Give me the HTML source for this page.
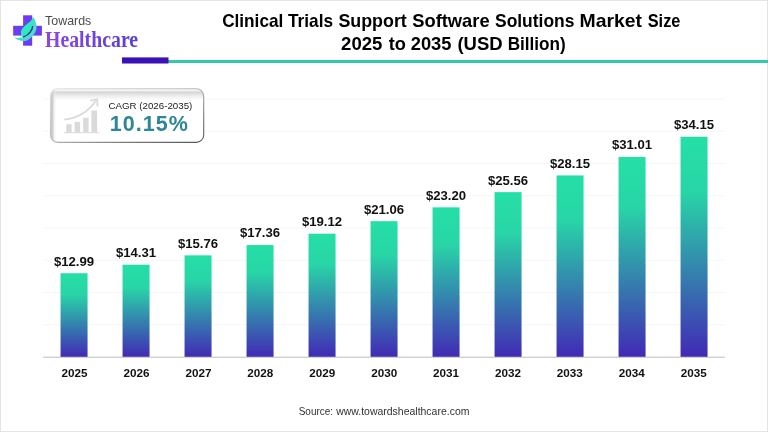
<!DOCTYPE html>
<html lang="en"><head><meta charset="utf-8"><title>Clinical Trials Support Software Solutions Market Size</title>
<style>
html,body{margin:0;padding:0;background:#fff;}
body{width:768px;height:432px;overflow:hidden;font-family:"Liberation Sans",Arial,sans-serif;}
svg{display:block}
</style></head><body>
<svg width="768" height="432" viewBox="0 0 768 432">
<defs>
<linearGradient id="bar" x1="0" y1="0" x2="0" y2="1">
<stop offset="0" stop-color="#25dfa6"/><stop offset="0.25" stop-color="#28d5a7"/><stop offset="1" stop-color="#412ab5"/>
</linearGradient>
<linearGradient id="hc" gradientUnits="userSpaceOnUse" x1="45" y1="0" x2="138" y2="0">
<stop offset="0" stop-color="#8a48e6"/><stop offset="1" stop-color="#5a3fd6"/>
</linearGradient>
<linearGradient id="topband" x1="0" y1="0" x2="0" y2="1">
<stop offset="0" stop-color="#d0d0d0"/><stop offset="0.5" stop-color="#ececec"/><stop offset="1" stop-color="#ffffff"/>
</linearGradient>
<linearGradient id="leftband" x1="0" y1="0" x2="1" y2="0">
<stop offset="0" stop-color="#c0c0c0"/><stop offset="0.4" stop-color="#cfcfcf"/><stop offset="1" stop-color="#ffffff" stop-opacity="0"/>
</linearGradient>
<clipPath id="boxclip"><rect x="50.5" y="88.7" width="153.2" height="53.7" rx="7.5" ry="7.5"/></clipPath>
<linearGradient id="boxstroke" x1="0" y1="0" x2="1" y2="1">
<stop offset="0" stop-color="#e2e2e2"/><stop offset="0.45" stop-color="#bdbdbd"/><stop offset="0.75" stop-color="#7a7a7a"/><stop offset="1" stop-color="#555555"/>
</linearGradient>
</defs>
<rect x="0" y="0" width="768" height="432" fill="#ffffff"/>
<rect x="0.5" y="0.5" width="767" height="431" fill="none" stroke="#e4e4e4" stroke-width="1"/>

<g stroke="#f6f6f6" stroke-width="1">
<line x1="43" y1="324.75" x2="725" y2="324.75"/>
<line x1="43" y1="292.50" x2="725" y2="292.50"/>
<line x1="43" y1="260.25" x2="725" y2="260.25"/>
<line x1="43" y1="228.00" x2="725" y2="228.00"/>
<line x1="43" y1="195.75" x2="725" y2="195.75"/>
<line x1="43" y1="163.50" x2="725" y2="163.50"/>
<line x1="43" y1="131.25" x2="725" y2="131.25"/>
<line x1="43" y1="99.00" x2="725" y2="99.00"/>
</g>
<rect x="168" y="60" width="600" height="3" fill="#36c9a6"/>
<rect x="122" y="57.4" width="46.5" height="6.1" fill="#3a12b8"/>
<g>
<rect x="23.1" y="15.3" width="9.1" height="30.4" fill="#6c3df0"/>
<rect x="13.2" y="25.8" width="28.7" height="9.8" fill="#6c3df0"/>
<path d="M33.1,16.9 C35.8,20.5 37.2,25 36.4,29 C35.5,33.5 31.5,38.5 25.7,41 C23.5,40 21.8,37.5 21.2,35 C20,29.5 24.5,26 29.9,22 C31.5,20.5 32.5,18.5 33.1,16.9 Z" fill="#4fd9d2"/>
<path d="M33.1,16.9 C32.5,18.5 31.5,20.5 29.9,22 C24.5,26 20,29.5 21.2,35 C21.5,36.2 22.3,37 23.4,36.9 C28,34.8 32,31.5 32.7,26.2 C33.3,23 33.3,19.5 33.1,16.9 Z" fill="#2ee8c2"/>
<path d="M32.7,26 C32.2,31 28.2,35 23.2,37.1" fill="none" stroke="#1a3575" stroke-width="1.3"/>
<path d="M13.7,37.2 C17,39.8 21.5,41.5 26.5,40.8 L24,39.5 C22.8,39 22,38.2 21.4,37.3 C19,38.2 16,38 13.7,37.2 Z" fill="#3fdcc8"/>
</g>
<g>
<rect x="50.5" y="88.7" width="153.2" height="53.7" rx="7.5" ry="7.5" fill="#ffffff"/>
<g clip-path="url(#boxclip)">
<rect x="50" y="91.2" width="154" height="9" fill="url(#topband)"/>
<rect x="50" y="88" width="154" height="3.2" fill="#f4f4f4"/>
<rect x="50" y="88" width="6.5" height="55" fill="url(#leftband)"/>
</g>
<rect x="50.5" y="88.7" width="153.2" height="53.7" rx="7.5" ry="7.5" fill="none" stroke="url(#boxstroke)" stroke-width="1.1"/>
<g fill="#dadada">
<rect x="66.2" y="124.2" width="5.4" height="8.4"/>
<rect x="74.6" y="121.9" width="5.5" height="10.7"/>
<rect x="83.2" y="117.7" width="5.4" height="14.9"/>
<rect x="91.4" y="110.5" width="5.7" height="22.1"/>
<rect x="64" y="132.2" width="35" height="1"/>
</g>
<path d="M64.3,119.6 C76,118.5 88,112 96,100.5" fill="none" stroke="#dadada" stroke-width="1.8"/>
<path d="M90.3,100.6 L97.2,99.4 L97.6,106.4" fill="none" stroke="#dadada" stroke-width="1.8"/>
</g>
<text x="222.16" y="26.7" font-family="Liberation Sans, Arial, sans-serif" font-weight="bold" font-size="17.8" fill="#000" textLength="61.15" lengthAdjust="spacingAndGlyphs">Clinical</text>
<text x="288.00" y="26.7" font-family="Liberation Sans, Arial, sans-serif" font-weight="bold" font-size="17.8" fill="#000" textLength="45.00" lengthAdjust="spacingAndGlyphs">Trials</text>
<text x="338.42" y="26.7" font-family="Liberation Sans, Arial, sans-serif" font-weight="bold" font-size="17.8" fill="#000" textLength="68.37" lengthAdjust="spacingAndGlyphs">Support</text>
<text x="412.21" y="26.7" font-family="Liberation Sans, Arial, sans-serif" font-weight="bold" font-size="17.8" fill="#000" textLength="77.44" lengthAdjust="spacingAndGlyphs">Software</text>
<text x="495.03" y="26.7" font-family="Liberation Sans, Arial, sans-serif" font-weight="bold" font-size="17.8" fill="#000" textLength="79.38" lengthAdjust="spacingAndGlyphs">Solutions</text>
<text x="579.59" y="26.7" font-family="Liberation Sans, Arial, sans-serif" font-weight="bold" font-size="17.8" fill="#000" textLength="62.51" lengthAdjust="spacingAndGlyphs">Market</text>
<text x="647.74" y="26.7" font-family="Liberation Sans, Arial, sans-serif" font-weight="bold" font-size="17.8" fill="#000" textLength="32.66" lengthAdjust="spacingAndGlyphs">Size</text>
<text x="341.12" y="49.5" font-family="Liberation Sans, Arial, sans-serif" font-weight="bold" font-size="17.8" fill="#000" textLength="41.34" lengthAdjust="spacingAndGlyphs">2025</text>
<text x="388.70" y="49.5" font-family="Liberation Sans, Arial, sans-serif" font-weight="bold" font-size="17.8" fill="#000" textLength="17.20" lengthAdjust="spacingAndGlyphs">to</text>
<text x="410.73" y="49.5" font-family="Liberation Sans, Arial, sans-serif" font-weight="bold" font-size="17.8" fill="#000" textLength="40.73" lengthAdjust="spacingAndGlyphs">2035</text>
<text x="457.43" y="49.5" font-family="Liberation Sans, Arial, sans-serif" font-weight="bold" font-size="17.8" fill="#000" textLength="45.21" lengthAdjust="spacingAndGlyphs">(USD</text>
<text x="507.63" y="49.5" font-family="Liberation Sans, Arial, sans-serif" font-weight="bold" font-size="17.8" fill="#000" textLength="57.99" lengthAdjust="spacingAndGlyphs">Billion)</text>
<text x="45.11" y="24.6" font-family="Liberation Sans, Arial, sans-serif" font-size="12.4" fill="#4d4d4d" textLength="46.18" lengthAdjust="spacingAndGlyphs">Towards</text>
<text x="44.99" y="46.7" font-family="Liberation Serif, Times New Roman, serif" font-weight="bold" font-size="22.5" fill="url(#hc)" textLength="93.14" lengthAdjust="spacingAndGlyphs">Healthcare</text>
<text x="108.44" y="108.7" font-family="Liberation Sans, Arial, sans-serif" font-size="9.6" fill="#222" textLength="83.86" lengthAdjust="spacingAndGlyphs">CAGR (2026-2035)</text>
<text x="109.76" y="130.8" font-family="Liberation Sans, Arial, sans-serif" font-weight="bold" font-size="21.5" fill="#2c8796" textLength="77.99" lengthAdjust="spacing">10.15%</text>
<text x="298.69" y="415.0" font-family="Liberation Sans, Arial, sans-serif" font-size="10.2" fill="#333" textLength="34.41" lengthAdjust="spacingAndGlyphs">Source:</text>
<text x="336.16" y="415.0" font-family="Liberation Sans, Arial, sans-serif" font-size="10.2" fill="#333" textLength="133.28" lengthAdjust="spacingAndGlyphs">www.towardshealthcare.com</text>
<rect x="60.55" y="273.21" width="27.0" height="83.79" fill="url(#bar)"/>
<text x="74.05" y="265.61" font-family="Liberation Sans, Arial, sans-serif" font-weight="bold" font-size="13.15" fill="#111" text-anchor="middle">$12.99</text>
<text x="74.60" y="377.4" font-family="Liberation Sans, Arial, sans-serif" font-weight="bold" font-size="11.7" fill="#111" text-anchor="middle">2025</text>
<rect x="122.55" y="264.70" width="27.0" height="92.30" fill="url(#bar)"/>
<text x="136.05" y="257.10" font-family="Liberation Sans, Arial, sans-serif" font-weight="bold" font-size="13.15" fill="#111" text-anchor="middle">$14.31</text>
<text x="136.51" y="377.4" font-family="Liberation Sans, Arial, sans-serif" font-weight="bold" font-size="11.7" fill="#111" text-anchor="middle">2026</text>
<rect x="184.55" y="255.35" width="27.0" height="101.65" fill="url(#bar)"/>
<text x="198.05" y="247.75" font-family="Liberation Sans, Arial, sans-serif" font-weight="bold" font-size="13.15" fill="#111" text-anchor="middle">$15.76</text>
<text x="198.42" y="377.4" font-family="Liberation Sans, Arial, sans-serif" font-weight="bold" font-size="11.7" fill="#111" text-anchor="middle">2027</text>
<rect x="246.55" y="245.03" width="27.0" height="111.97" fill="url(#bar)"/>
<text x="260.05" y="237.43" font-family="Liberation Sans, Arial, sans-serif" font-weight="bold" font-size="13.15" fill="#111" text-anchor="middle">$17.36</text>
<text x="260.33" y="377.4" font-family="Liberation Sans, Arial, sans-serif" font-weight="bold" font-size="11.7" fill="#111" text-anchor="middle">2028</text>
<rect x="308.55" y="233.68" width="27.0" height="123.32" fill="url(#bar)"/>
<text x="322.05" y="226.08" font-family="Liberation Sans, Arial, sans-serif" font-weight="bold" font-size="13.15" fill="#111" text-anchor="middle">$19.12</text>
<text x="322.24" y="377.4" font-family="Liberation Sans, Arial, sans-serif" font-weight="bold" font-size="11.7" fill="#111" text-anchor="middle">2029</text>
<rect x="370.55" y="221.16" width="27.0" height="135.84" fill="url(#bar)"/>
<text x="384.05" y="213.56" font-family="Liberation Sans, Arial, sans-serif" font-weight="bold" font-size="13.15" fill="#111" text-anchor="middle">$21.06</text>
<text x="384.15" y="377.4" font-family="Liberation Sans, Arial, sans-serif" font-weight="bold" font-size="11.7" fill="#111" text-anchor="middle">2030</text>
<rect x="432.55" y="207.36" width="27.0" height="149.64" fill="url(#bar)"/>
<text x="446.05" y="199.76" font-family="Liberation Sans, Arial, sans-serif" font-weight="bold" font-size="13.15" fill="#111" text-anchor="middle">$23.20</text>
<text x="446.06" y="377.4" font-family="Liberation Sans, Arial, sans-serif" font-weight="bold" font-size="11.7" fill="#111" text-anchor="middle">2031</text>
<rect x="494.55" y="192.14" width="27.0" height="164.86" fill="url(#bar)"/>
<text x="508.05" y="184.54" font-family="Liberation Sans, Arial, sans-serif" font-weight="bold" font-size="13.15" fill="#111" text-anchor="middle">$25.56</text>
<text x="507.97" y="377.4" font-family="Liberation Sans, Arial, sans-serif" font-weight="bold" font-size="11.7" fill="#111" text-anchor="middle">2032</text>
<rect x="556.55" y="175.43" width="27.0" height="181.57" fill="url(#bar)"/>
<text x="570.05" y="167.83" font-family="Liberation Sans, Arial, sans-serif" font-weight="bold" font-size="13.15" fill="#111" text-anchor="middle">$28.15</text>
<text x="569.88" y="377.4" font-family="Liberation Sans, Arial, sans-serif" font-weight="bold" font-size="11.7" fill="#111" text-anchor="middle">2033</text>
<rect x="618.55" y="156.99" width="27.0" height="200.01" fill="url(#bar)"/>
<text x="632.05" y="149.39" font-family="Liberation Sans, Arial, sans-serif" font-weight="bold" font-size="13.15" fill="#111" text-anchor="middle">$31.01</text>
<text x="631.79" y="377.4" font-family="Liberation Sans, Arial, sans-serif" font-weight="bold" font-size="11.7" fill="#111" text-anchor="middle">2034</text>
<rect x="680.55" y="136.73" width="27.0" height="220.27" fill="url(#bar)"/>
<text x="694.05" y="129.13" font-family="Liberation Sans, Arial, sans-serif" font-weight="bold" font-size="13.15" fill="#111" text-anchor="middle">$34.15</text>
<text x="693.70" y="377.4" font-family="Liberation Sans, Arial, sans-serif" font-weight="bold" font-size="11.7" fill="#111" text-anchor="middle">2035</text>
<rect x="43" y="356.7" width="682" height="1" fill="#bdbdbd"/>
</svg></body></html>
